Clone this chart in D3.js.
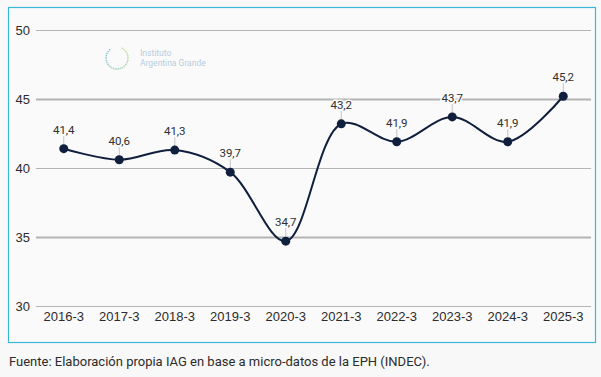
<!DOCTYPE html>
<html>
<head>
<meta charset="utf-8">
<script src="https://cdn.jsdelivr.net/npm/d3@7"></script>
<style>
    html, body { margin: 0; padding: 0; background: #f8f8f9; }
    svg { display: block; font-family: Roboto, 'Liberation Sans', sans-serif; }
    .grid line { stroke: #b4b4b4; }
    .axis text { fill: #2b2b2b; font-size: 13px; }
    .val-label { fill: #2f2f2f; font-size: 11.5px; }
    .leader { stroke: #c4c4c4; stroke-width: 1; }
</style>
</head>
<body>
<svg id="chart"></svg>
<script>
const categories = ['2016-3', '2017-3', '2018-3', '2019-3', '2020-3', '2021-3', '2022-3', '2023-3', '2024-3', '2025-3']
const values = [41.4, 40.6, 41.3, 39.7, 34.7, 43.2, 41.9, 43.7, 41.9, 45.2]
const yTicks = [30, 35, 40, 45, 50]
const sourceText = 'Fuente: Elaboración propia IAG en base a micro-datos de la EPH (INDEC).'

const width = 601
const height = 377
const plot = { left: 36, right: 591, top: 30, bottom: 306 }

const svg = d3.select('#chart')
    .attr('width', width)
    .attr('height', height)

// Chart frame
svg.append('rect')
    .attr('x', 8.5)
    .attr('y', 7.5)
    .attr('width', 587)
    .attr('height', 335)
    .attr('fill', '#fafafa')
    .attr('stroke', '#3bb8d9')
    .attr('stroke-width', 1.2)

const xScale = d3.scaleBand()
    .domain(categories)
    .range([plot.left, plot.right])

const yScale = d3.scaleLinear()
    .domain([30, 50])
    .range([plot.bottom, plot.top])

// Gridlines
svg.append('g')
    .classed('grid', true)
    .selectAll('line')
    .data(yTicks)
    .join('line')
    .attr('x1', plot.left)
    .attr('x2', plot.right)
    .attr('y1', d => Math.round(yScale(d)) + 0.5)
    .attr('y2', d => Math.round(yScale(d)) + 0.5)
    .attr('stroke-width', d => d % 10 === 5 ? 2 : 1)

// Y axis labels
const yAxis = d3.axisLeft(yScale).tickValues(yTicks).tickSize(0).tickPadding(6)
svg.append('g')
    .classed('axis', true)
    .attr('transform', `translate(${plot.left},0)`)
    .call(yAxis)
    .call(g => g.select('.domain').remove())
    .selectAll('text')
    .style('font-family', 'inherit')

// X axis labels
const xAxis = d3.axisBottom(xScale).tickSize(0).tickPadding(6)
svg.append('g')
    .classed('axis', true)
    .attr('transform', `translate(0,${plot.bottom})`)
    .call(xAxis)
    .call(g => g.select('.domain').remove())
    .selectAll('text')
    .style('font-family', 'inherit')

// Watermark logo
const logo = svg.append('g').attr('transform', 'translate(117,58)').attr('opacity', 0.55)
const logoDots = d3.range(0, 300, 12)
logo.selectAll('circle')
    .data(logoDots)
    .join('circle')
    .attr('cx', d => 11 * Math.cos((d - 60) * Math.PI / 180))
    .attr('cy', d => 11 * Math.sin((d - 60) * Math.PI / 180))
    .attr('r', 0.9)
    .attr('fill', (d, i) => d3.interpolateRgb('#9ccf5a', '#3a9fd0')(i / logoDots.length))
logo.append('text')
    .attr('x', 23).attr('y', -2)
    .attr('fill', '#7fa9c9')
    .style('font-size', '8.5px')
    .text('Instituto')
logo.append('text')
    .attr('x', 23).attr('y', 8)
    .attr('fill', '#7fa9c9')
    .style('font-size', '8.5px')
    .text('Argentina Grande')

const cx = d => xScale(d.cat) + xScale.bandwidth() / 2
const points = categories.map((cat, i) => ({ cat, value: values[i] }))

// Series line
const line = d3.line()
    .x(cx)
    .y(d => yScale(d.value))
    .curve(d3.curveCatmullRom.alpha(0.5))

svg.append('path')
    .datum(points)
    .attr('d', line)
    .attr('fill', 'none')
    .attr('stroke', '#0f1f3d')
    .attr('stroke-width', 2)

// Leader lines and value labels
const labels = svg.append('g')
labels.selectAll('line')
    .data(points)
    .join('line')
    .classed('leader', true)
    .attr('x1', cx)
    .attr('x2', cx)
    .attr('y1', d => yScale(d.value) - 4)
    .attr('y2', d => yScale(d.value) - 13)

labels.selectAll('text')
    .data(points)
    .join('text')
    .classed('val-label', true)
    .attr('x', cx)
    .attr('y', d => yScale(d.value) - 15)
    .attr('text-anchor', 'middle')
    .attr('paint-order', 'stroke')
    .attr('stroke', '#fafafa')
    .attr('stroke-width', 3)
    .text(d => d.value.toFixed(1).replace('.', ','))

svg.append('g')
    .selectAll('circle')
    .data(points)
    .join('circle')
    .attr('cx', cx)
    .attr('cy', d => yScale(d.value))
    .attr('r', 4.5)
    .attr('fill', '#0f1f3d')

// Source note
svg.append('text')
    .attr('x', 9)
    .attr('y', 366)
    .attr('fill', '#2b2b2b')
    .style('font-size', '13px')
    .text(sourceText)
</script>
</body>
</html>
